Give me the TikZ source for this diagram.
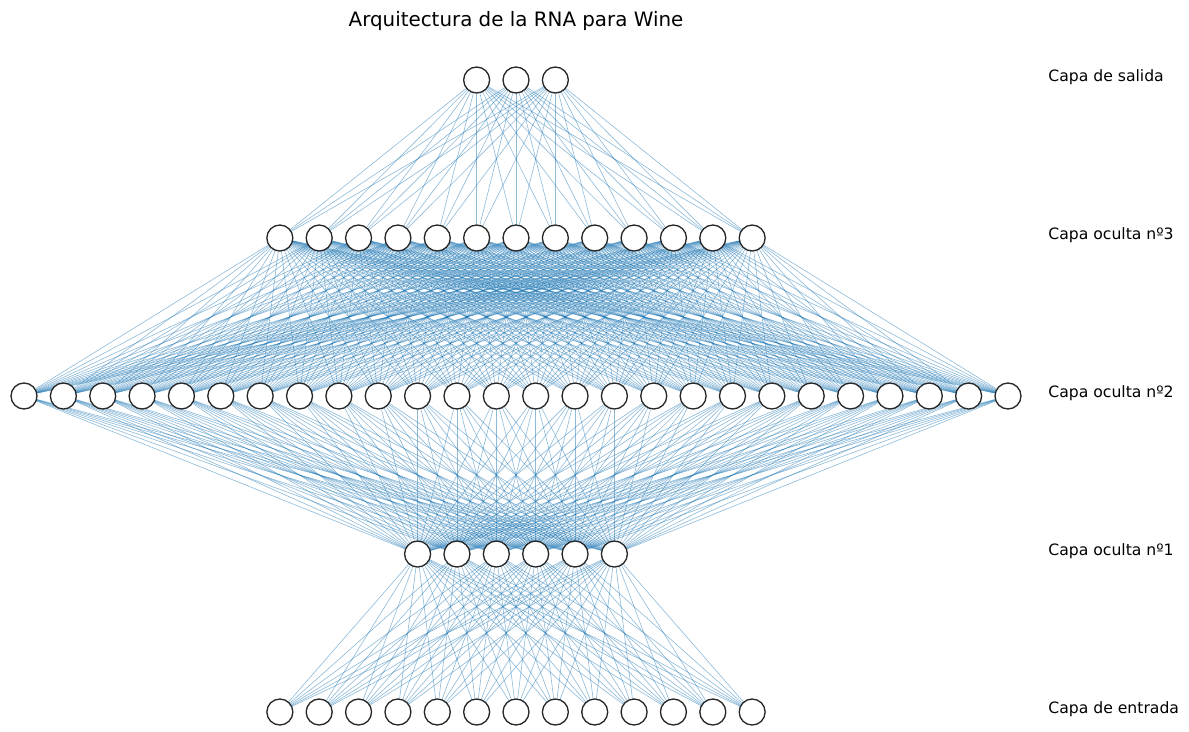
\documentclass[tikz,border=0pt]{standalone}
\usepackage{fontspec}
\setmainfont{DejaVu Sans}
\usetikzlibrary{backgrounds}
\definecolor{edgec}{HTML}{1F77B4}
\tikzset{neuron/.style={circle,draw=black!85,fill=white,line width=0.75pt,minimum size=0.52cm,inner sep=0pt},
  synapse/.style={edgec,line width=0.35pt,opacity=0.5},
  layerlab/.style={anchor=base west,inner sep=0pt,font=\fontsize{8.9}{10}\selectfont}}
\begin{document}
\begin{tikzpicture}[x=0.02cm,y=-0.02cm]
\useasboundingbox (0,0) rectangle (1189,731);
\node[anchor=base,font=\fontsize{11.3}{13}\selectfont] (title) at (516,26) {Arquitectura de la RNA para Wine};
% layers: index/size/y
\foreach \ly/\nn/\yy in {0/13/712,1/6/554,2/26/396,3/13/238,4/3/80}{
  \foreach \i in {1,...,\nn}{
    \node[neuron] (n\ly-\i) at ({516+(\i-(\nn+1)/2)*39.36},\yy) {};
  }
}
% fully connected links
\begin{scope}[on background layer]
\foreach \a/\na/\b/\nb in {0/13/1/6,1/6/2/26,2/26/3/13,3/13/4/3}{
  \foreach \i in {1,...,\na}{
    \foreach \j in {1,...,\nb}{
      \draw[synapse] (n\a-\i.center) -- (n\b-\j.center);
    }
  }
}
\end{scope}
\node[layerlab] (lab4) at (1048,81) {Capa de salida};
\node[layerlab] (lab3) at (1048,239) {Capa oculta nº3};
\node[layerlab] (lab2) at (1048,397) {Capa oculta nº2};
\node[layerlab] (lab1) at (1048,555) {Capa oculta nº1};
\node[layerlab] (lab0) at (1048,713) {Capa de entrada};
\end{tikzpicture}
\end{document}
